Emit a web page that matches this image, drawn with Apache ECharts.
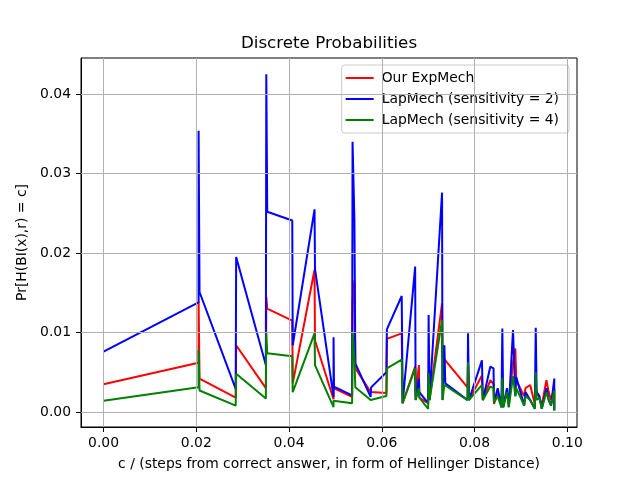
<!DOCTYPE html>
<html>
<head>
<meta charset="utf-8">
<script src="https://cdn.jsdelivr.net/npm/echarts@6/dist/echarts.min.js"></script>
<style>
  html, body { margin: 0; padding: 0; background: #fff; }
  #chart { width: 640px; height: 480px; }
</style>
</head>
<body>
<div id="chart"></div>
<script>
// hellinger distances (shared by all three series, duplicates give the vertical jumps)
var dist = [
  0.0000, 0.0205, 0.0205, 0.0207, 0.0285, 0.0286, 0.0350, 0.0351, 0.0353, 0.0407,
  0.0408, 0.0455, 0.0456, 0.0496, 0.0496, 0.0497, 0.0536, 0.0537, 0.0541, 0.0543,
  0.0576, 0.0577, 0.0610, 0.0611, 0.0643, 0.0645, 0.0672, 0.0673, 0.0680, 0.0681,
  0.0700, 0.0701, 0.0703, 0.0730, 0.0731, 0.0735, 0.0737, 0.0785, 0.0786, 0.0788,
  0.0816, 0.0818, 0.0834, 0.0841, 0.0842, 0.0850, 0.0858, 0.0860, 0.0862, 0.0870,
  0.0874, 0.0883, 0.0888, 0.0890, 0.0907, 0.0910, 0.0920, 0.0930, 0.0932, 0.0934,
  0.0940, 0.0945, 0.0955, 0.0960, 0.0965, 0.0972, 0.0972
];
var expMech = [
  0.0035, 0.0062, 0.0139, 0.0042, 0.0018, 0.0084, 0.0030, 0.0145, 0.0130, 0.0115,
  0.0036, 0.0179, 0.0090, 0.0016, 0.0030, 0.0030, 0.0019, 0.0140, 0.0166, 0.0055,
  0.0025, 0.0025, 0.0024, 0.0092, 0.0099, 0.0011, 0.0057, 0.0020, 0.0059, 0.0018,
  0.0011, 0.0049, 0.0015, 0.0137, 0.0069, 0.0069, 0.0065, 0.0031, 0.0065, 0.0015,
  0.0046, 0.0015, 0.0040, 0.0035, 0.0010, 0.0025, 0.0010, 0.0030, 0.0008, 0.0025,
  0.0010, 0.0062, 0.0080, 0.0040, 0.0020, 0.0030, 0.0034, 0.0010, 0.0030, 0.0025,
  0.0018, 0.0008, 0.0040, 0.0025, 0.0015, 0.0030, 0.0004
];
var lap2 = [
  0.0076, 0.0138, 0.0354, 0.0151, 0.0029, 0.0195, 0.0059, 0.0425, 0.0252, 0.0241,
  0.0084, 0.0255, 0.0180, 0.0019, 0.0094, 0.0032, 0.0021, 0.0340, 0.0242, 0.0061,
  0.0019, 0.0031, 0.0050, 0.0104, 0.0146, 0.0011, 0.0183, 0.0015, 0.0042, 0.0025,
  0.0011, 0.0122, 0.0015, 0.0276, 0.0015, 0.0084, 0.0036, 0.0015, 0.0099, 0.0015,
  0.0065, 0.0015, 0.0057, 0.0055, 0.0012, 0.0030, 0.0006, 0.0105, 0.0006, 0.0030,
  0.0006, 0.0103, 0.0020, 0.0044, 0.0008, 0.0025, 0.0015, 0.0004, 0.0106, 0.0025,
  0.0020, 0.0004, 0.0030, 0.0015, 0.0008, 0.0042, 0.0002
];
var lap4 = [
  0.0014, 0.0031, 0.0078, 0.0027, 0.0008, 0.0048, 0.0017, 0.0099, 0.0074, 0.0070,
  0.0025, 0.0099, 0.0059, 0.0006, 0.0014, 0.0014, 0.0011, 0.0101, 0.0065, 0.0031,
  0.0015, 0.0015, 0.0020, 0.0055, 0.0066, 0.0011, 0.0055, 0.0015, 0.0030, 0.0018,
  0.0004, 0.0049, 0.0015, 0.0116, 0.0015, 0.0034, 0.0034, 0.0015, 0.0063, 0.0015,
  0.0034, 0.0015, 0.0032, 0.0030, 0.0012, 0.0020, 0.0006, 0.0043, 0.0006, 0.0025,
  0.0006, 0.0045, 0.0020, 0.0030, 0.0008, 0.0020, 0.0015, 0.0004, 0.0050, 0.0015,
  0.0018, 0.0004, 0.0025, 0.0015, 0.0008, 0.0027, 0.0002
];
var xTicks = [0.00, 0.02, 0.04, 0.06, 0.08, 0.10];
var yTicks = [0.00, 0.01, 0.02, 0.03, 0.04];

function pairs(ys) {
  return dist.map(function (d, i) { return [d, ys[i]]; });
}

var font = 'DejaVu Sans';
var chart = echarts.init(document.getElementById('chart'), null, { renderer: 'canvas' });

var option = {
  animation: false,
  backgroundColor: '#fff',
  textStyle: { fontFamily: font },
  title: {
    text: 'Discrete Probabilities',
    left: 329,
    top: 35,
    padding: 0,
    textAlign: 'center',
    textStyle: { fontFamily: font, fontSize: 16.7, fontWeight: 'normal', color: '#000' }
  },
  legend: {
    orient: 'vertical',
    right: 71,
    top: 65,
    padding: [5, 10, 5, 4],
    itemGap: 5,
    itemWidth: 28,
    itemHeight: 2,
    icon: 'rect',
    backgroundColor: 'rgba(255,255,255,0.8)',
    borderColor: '#cccccc',
    borderWidth: 1,
    borderRadius: 3,
    textStyle: { fontFamily: font, fontSize: 13.9, color: '#000', lineHeight: 16, padding: [0, 0, 0, 3] },
    data: ['Our ExpMech', 'LapMech (sensitivity = 2)', 'LapMech (sensitivity = 4)']
  },
  grid: {
    left: 81, right: 63, top: 58, bottom: 53,
    show: true, borderColor: '#000', borderWidth: 1, backgroundColor: 'transparent'
  },
  xAxis: {
    type: 'value',
    min: -0.00486,
    max: 0.1021,
    name: 'c / (steps from correct answer, in form of Hellinger Distance)',
    nameLocation: 'middle',
    nameGap: 30,
    nameTextStyle: { fontFamily: font, fontSize: 13.9, color: '#000' },
    axisLine: { show: true, onZero: false, lineStyle: { color: '#000', width: 1 } },
    axisTick: { show: true, inside: false, length: 5, lineStyle: { color: '#000' }, customValues: xTicks },
    axisLabel: {
      fontFamily: font, fontSize: 13.9, color: '#000', margin: 9,
      customValues: xTicks,
      formatter: function (v) { return v.toFixed(2); }
    },
    splitLine: { show: false }
  },
  yAxis: {
    type: 'value',
    min: -0.00189,
    max: 0.04455,
    name: 'Pr[H(BI(x),r) = c]',
    nameLocation: 'middle',
    nameGap: 38,
    nameTextStyle: { fontFamily: font, fontSize: 13.9, color: '#000' },
    axisLine: { show: true, onZero: false, lineStyle: { color: '#000', width: 1 } },
    axisTick: { show: true, inside: false, length: 5, lineStyle: { color: '#000' }, customValues: yTicks },
    axisLabel: {
      fontFamily: font, fontSize: 13.9, color: '#000', margin: 10,
      customValues: yTicks,
      formatter: function (v) { return v.toFixed(2); }
    },
    splitLine: { show: false }
  },
  series: [
    {
      // grid lines in matplotlib style, placed on the tick values
      type: 'line',
      data: [],
      silent: true,
      z: 1,
      markLine: {
        silent: true,
        symbol: ['none', 'none'],
        label: { show: false },
        lineStyle: { color: '#b0b0b0', width: 1, type: 'solid' },
        data: xTicks.map(function (v) { return { xAxis: v }; })
          .concat(yTicks.map(function (v) { return { yAxis: v }; }))
      }
    },
    {
      name: 'Our ExpMech', type: 'line', data: pairs(expMech), showSymbol: false,
      color: '#ff0000', lineStyle: { width: 2, color: '#ff0000' }, z: 2
    },
    {
      name: 'LapMech (sensitivity = 2)', type: 'line', data: pairs(lap2), showSymbol: false,
      color: '#0000ff', lineStyle: { width: 2, color: '#0000ff' }, z: 3
    },
    {
      name: 'LapMech (sensitivity = 4)', type: 'line', data: pairs(lap4), showSymbol: false,
      color: '#008000', lineStyle: { width: 2, color: '#008000' }, z: 4
    }
  ]
};
chart.setOption(option);
</script>
</body>
</html>
